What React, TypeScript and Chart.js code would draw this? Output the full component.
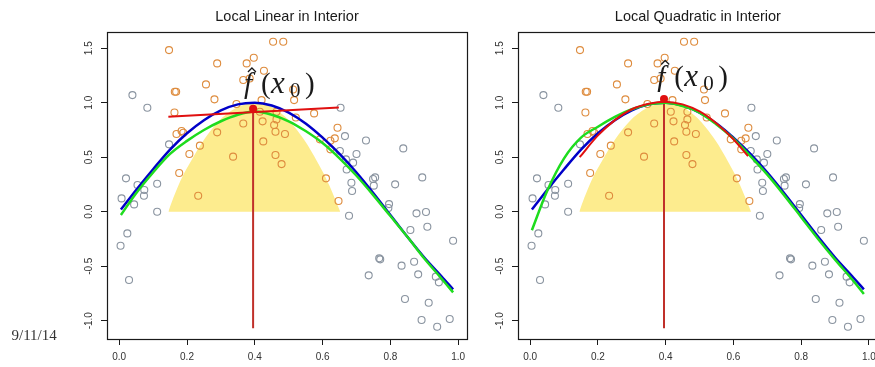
import React, { useEffect, useRef } from 'react';
import { Chart, registerables } from 'chart.js';

Chart.register(...registerables);

// ---------- data ----------
const xTickValues = [0, 0.2, 0.4, 0.6, 0.8, 1.0];
const yTickValues = [-1.0, -0.5, 0.0, 0.5, 1.0, 1.5];
const xRange = [-0.036, 1.026];
const yRange = [-1.168, 1.649];

const panelTitles = ['Local Linear in Interior', 'Local Quadratic in Interior'];
const dateText = '9/11/14';

// observations inside the kernel window (orange)
const insideX = [0.147, 0.454, 0.484, 0.397, 0.376, 0.289, 0.427, 0.366, 0.385, 0.256, 0.164, 0.168, 0.513, 0.281, 0.42, 0.516,
  0.163, 0.415, 0.464, 0.521, 0.575, 0.346, 0.366, 0.423, 0.457, 0.464, 0.461, 0.489, 0.289, 0.184, 0.189, 0.169,
  0.238, 0.425, 0.207, 0.336, 0.461, 0.479, 0.177, 0.233, 0.61, 0.647, 0.644, 0.636, 0.592, 0.623, 0.623];
const insideY = [1.483, 1.56, 1.56, 1.413, 1.361, 1.361, 1.294, 1.208, 1.223, 1.168, 1.101, 1.101, 1.122, 1.031, 1.024, 1.024,
  0.911, 0.917, 0.917, 0.865, 0.902, 0.988, 0.81, 0.829, 0.795, 0.847, 0.734, 0.713, 0.728, 0.74, 0.725, 0.713,
  0.606, 0.645, 0.529, 0.505, 0.52, 0.437, 0.355, 0.147, 0.306, 0.098, 0.771, 0.673, 0.664, 0.651, 0.572];

// observations outside the window (grey)
const outsideX = [0.039, 0.083, 0.147, 0.02, 0.054, 0.074, 0.073, 0.044, 0.007, 0.112, 0.112, 0.024, 0.004, 0.029,
  0.653, 0.666, 0.728, 0.838, 0.669, 0.69, 0.7, 0.671, 0.685, 0.687, 0.749, 0.755, 0.751, 0.814, 0.894, 0.678,
  0.796, 0.794, 0.877, 0.905, 0.909, 0.859, 0.985, 0.767, 0.77, 0.87, 0.833, 0.882, 0.736, 0.934, 0.943, 0.843,
  0.913, 0.892, 0.975, 0.938, 0.651];
const outsideY = [1.07, 0.954, 0.618, 0.306, 0.245, 0.199, 0.147, 0.067, 0.122, 0.257, 0.0, -0.199, -0.312, -0.627,
  0.954, 0.694, 0.654, 0.581, 0.48, 0.45, 0.529, 0.388, 0.266, 0.19, 0.3, 0.315, 0.239, 0.251, 0.315, -0.037,
  0.07, 0.034, -0.015, -0.003, -0.138, -0.168, -0.266, -0.428, -0.437, -0.459, -0.495, -0.575, -0.584, -0.596, -0.648, -0.801,
  -0.835, -0.994, -0.985, -1.055, 0.557];

// curves sampled on a common grid
const curveX = [0.005, 0.05, 0.1, 0.15, 0.2, 0.25, 0.3, 0.35, 0.4, 0.45, 0.5, 0.55, 0.6, 0.65, 0.7, 0.75, 0.8, 0.85, 0.9, 0.95, 0.985];
const trueY = [0.02, 0.2, 0.39, 0.57, 0.72, 0.84, 0.93, 0.985, 1.0, 0.975, 0.91, 0.81, 0.68, 0.53, 0.36, 0.17, -0.03, -0.23, -0.42, -0.59, -0.713];
const linearFitY = [-0.03, 0.17, 0.36, 0.53, 0.65, 0.75, 0.83, 0.89, 0.92, 0.89, 0.83, 0.74, 0.63, 0.49, 0.33, 0.15, -0.04, -0.23, -0.43, -0.61, -0.74];
const quadraticFitY = [-0.17, 0.19, 0.49, 0.68, 0.78, 0.87, 0.94, 0.985, 1.0, 0.97, 0.91, 0.8, 0.67, 0.51, 0.34, 0.15, -0.05, -0.25, -0.44, -0.62, -0.755];

// kernel weights (yellow)
const kernelX = [0.145, 0.16, 0.18, 0.2, 0.25, 0.3, 0.35, 0.4, 0.45, 0.5, 0.55, 0.6, 0.62, 0.652];
const kernelY = [0.0, 0.13, 0.28, 0.4, 0.66, 0.85, 0.96, 1.0, 0.96, 0.84, 0.64, 0.37, 0.24, 0.0];

// local fits at the target point
const targetX = 0.395;
const localLineX = [0.145, 0.648];
const localLineY = [0.872, 0.957];
const localQuadX = [0.146, 0.2, 0.25, 0.3, 0.35, 0.395, 0.45, 0.5, 0.55, 0.6, 0.643];
const localQuadY = [0.5, 0.7, 0.84, 0.94, 0.99, 1.01, 0.985, 0.92, 0.81, 0.665, 0.51];
const estimateY = [0.945, 1.034];
const stemBottom = -1.07;
const labelX = [0.365, 0.372];
const labelY = [1.089, 1.158];

// ---------- styles ----------
const YELLOW = 'rgb(253,236,142)';
const ORANGE = 'rgb(222,140,62)';
const GREY = 'rgb(138,148,160)';
const BLUE = '#0000c8';
const GREEN = '#1edc1e';
const RED = '#e01010';
const DARKRED = '#c0302a';
const INK = '#1a1a1a';

function drawFhat(ctx: CanvasRenderingContext2D, px: number, py: number) {
  ctx.save();
  ctx.fillStyle = INK;
  ctx.textAlign = 'left';
  ctx.textBaseline = 'alphabetic';
  const serif = '"Liberation Serif", "Times New Roman", serif';
  ctx.font = `italic 29px ${serif}`;
  ctx.fillText('f', px + 1, py);
  ctx.font = `29px ${serif}`;
  ctx.fillText('(', px + 18, py);
  ctx.font = `italic 31px ${serif}`;
  ctx.fillText('x', px + 28, py);
  ctx.font = `21px ${serif}`;
  ctx.fillText('0', px + 47, py + 4);
  ctx.font = `29px ${serif}`;
  ctx.fillText(')', px + 62, py);
  ctx.strokeStyle = INK;
  ctx.lineWidth = 1.3;
  ctx.beginPath();
  ctx.moveTo(px + 5, py - 21);
  ctx.lineTo(px + 9, py - 25);
  ctx.lineTo(px + 13, py - 21);
  ctx.stroke();
  ctx.restore();
}

const decorPlugin = {
  id: 'panelDecor',
  afterDatasetsDraw(chart: any, _args: any, opts: any) {
    const panel = opts.panel;
    const { ctx, scales } = chart;
    const px = scales.x.getPixelForValue(labelX[panel]);
    const py = scales.y.getPixelForValue(labelY[panel]);
    drawFhat(ctx, px, py);
  },
  afterDraw(chart: any, _args: any, opts: any) {
    const panel = opts.panel;
    const { ctx, chartArea: a, scales } = chart;
    ctx.save();
    ctx.strokeStyle = INK;
    ctx.lineWidth = 1.2;
    ctx.strokeRect(Math.round(a.left) + 0.5, Math.round(a.top) + 0.5, Math.round(a.right - a.left), Math.round(a.bottom - a.top));
    ctx.fillStyle = '#333';
    ctx.font = '10px "Liberation Sans", Arial, sans-serif';
    ctx.textAlign = 'center';
    ctx.textBaseline = 'middle';
    scales.y.ticks.forEach((t: any) => {
      const y = scales.y.getPixelForValue(t.value);
      ctx.save();
      ctx.translate(a.left - 18, y);
      ctx.rotate(-Math.PI / 2);
      ctx.fillText(Number(t.value).toFixed(1), 0, 0);
      ctx.restore();
    });
    ctx.fillStyle = INK;
    ctx.font = '14.5px "Liberation Sans", Arial, sans-serif';
    ctx.textBaseline = 'alphabetic';
    ctx.fillText(panelTitles[panel], (a.left + a.right) / 2, 20.5);
    if (panel === 0) {
      ctx.fillStyle = '#333';
      ctx.font = '15px "Liberation Serif", "Times New Roman", serif';
      ctx.textAlign = 'left';
      ctx.fillText(dateText, 11.5, 340);
    }
    ctx.restore();
  },
};

const pts = (xs: number[], ys: number[]) => xs.map((x, i) => ({ x, y: ys[i] }));

function buildConfig(panel: number, chartLeft: number, chartRight: number, canvasW: number): any {
  const fitY = panel === 0 ? linearFitY : quadraticFitY;
  const local = panel === 0 ? pts(localLineX, localLineY) : pts(localQuadX, localQuadY);
  const datasets: any[] = [
    { data: pts(kernelX, kernelY), showLine: true, fill: 'origin', backgroundColor: YELLOW, borderWidth: 0, borderColor: 'rgba(0,0,0,0)', pointRadius: 0, tension: 0.3 },
    { data: pts(outsideX, outsideY), showLine: false, fill: false, pointRadius: 3.5, pointBorderWidth: 1.1, pointBorderColor: GREY, pointBackgroundColor: 'rgba(0,0,0,0)' },
    { data: pts(insideX, insideY), showLine: false, fill: false, pointRadius: 3.5, pointBorderWidth: 1.1, pointBorderColor: ORANGE, pointBackgroundColor: 'rgba(0,0,0,0)' },
    { data: [{ x: targetX, y: estimateY[panel] }, { x: targetX, y: stemBottom }], showLine: true, fill: false, borderColor: DARKRED, borderWidth: 2, pointRadius: 0 },
    { data: pts(curveX, trueY), showLine: true, fill: false, borderColor: BLUE, borderWidth: 2.5, pointRadius: 0, cubicInterpolationMode: 'monotone' },
    { data: pts(curveX, fitY), showLine: true, fill: false, borderColor: GREEN, borderWidth: 2.5, pointRadius: 0, cubicInterpolationMode: 'monotone' },
    { data: local, showLine: true, fill: false, borderColor: RED, borderWidth: 2, pointRadius: 0, cubicInterpolationMode: 'monotone' },
    { data: [{ x: targetX, y: estimateY[panel] }], showLine: false, fill: false, pointRadius: 4, pointBorderWidth: 0, pointBackgroundColor: RED, pointBorderColor: RED },
  ];
  datasets.forEach((d, i) => { d.order = datasets.length - i; });
  const tickFont = { family: '"Liberation Sans", Arial, sans-serif', size: 10 };
  return {
    type: 'line',
    data: { datasets },
    plugins: [decorPlugin],
    options: {
      animation: false,
      responsive: false,
      maintainAspectRatio: false,
      events: [],
      layout: { autoPadding: false, padding: { left: 0, right: canvasW - chartRight, top: 32, bottom: 0 } },
      plugins: { legend: { display: false }, tooltip: { enabled: false }, panelDecor: { panel } },
      scales: {
        x: {
          type: 'linear', min: xRange[0], max: xRange[1],
          afterBuildTicks: (s: any) => { s.ticks = xTickValues.map((v) => ({ value: v })); },
          afterFit: (s: any) => { s.height = 367 - 339; },
          ticks: { font: tickFont, color: '#333', padding: 6, maxRotation: 0, autoSkip: false, callback: (v: any) => Number(v).toFixed(1) },
          grid: { drawOnChartArea: false, drawTicks: true, tickLength: 6, color: INK },
          border: { display: false },
        },
        y: {
          type: 'linear', min: yRange[0], max: yRange[1],
          afterBuildTicks: (s: any) => { s.ticks = yTickValues.map((v) => ({ value: v })); },
          afterFit: (s: any) => { s.width = chartLeft; },
          ticks: { display: false },
          grid: { drawOnChartArea: false, drawTicks: true, tickLength: 6, color: INK },
          border: { display: false },
        },
      },
    },
  };
}

function Panel({ panel, left, width, chartLeft, chartRight }: { panel: number; left: number; width: number; chartLeft: number; chartRight: number }) {
  const ref = useRef<HTMLCanvasElement | null>(null);
  useEffect(() => {
    if (!ref.current) return;
    const chart = new Chart(ref.current, buildConfig(panel, chartLeft, chartRight, width));
    return () => chart.destroy();
  }, [panel, left, width, chartLeft, chartRight]);
  return (
    <canvas
      ref={ref}
      width={width}
      height={367}
      style={{ position: 'absolute', left, top: 0, width, height: 367, display: 'block' }}
    />
  );
}

export default function App() {
  return (
    <div style={{ position: 'absolute', left: 0, top: 0, width: 875, height: 367, overflow: 'hidden', background: '#fff' }}>
      <Panel panel={0} left={0} width={480} chartLeft={107} chartRight={467} />
      <Panel panel={1} left={480} width={402} chartLeft={38} chartRight={398} />
    </div>
  );
}
